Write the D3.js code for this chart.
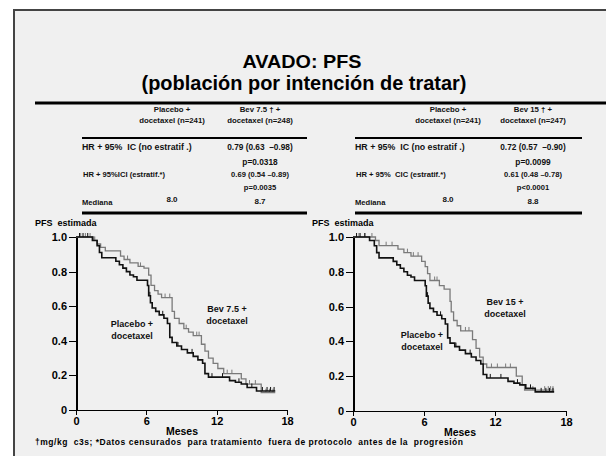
<!DOCTYPE html>
<html>
<head>
<meta charset="utf-8">
<style>
  body { margin: 0; background: #fff; }
  svg { display: block; font-family: "Liberation Sans", Arial, sans-serif; }
  svg text { white-space: pre; }
  .axis path, .axis line { fill: none; stroke: #000; shape-rendering: crispEdges; }
  .axis text { font: bold 11px "Liberation Sans", Arial, sans-serif; fill: #000; }
</style>
</head>
<body>
<script src="https://cdn.jsdelivr.net/npm/d3@7"></script>
<svg width="606" height="456"></svg>
<script>
// ---- data ----
var placeboT = [0, 1.4, 1.8, 2.0, 2.2, 3.4, 3.7, 4.0, 4.3, 4.6, 4.9, 5.2, 6.1, 6.2, 6.35, 6.5, 6.8, 7.1, 7.5, 7.8, 8.0, 8.2, 8.6, 9.0, 9.5, 10.0, 10.4, 10.8, 11.0, 11.3, 13.1, 13.6, 14.1, 14.6, 15.4, 17];
var placeboS = [1.0, 0.98, 0.95, 0.91, 0.88, 0.86, 0.84, 0.82, 0.80, 0.78, 0.77, 0.75, 0.72, 0.66, 0.62, 0.59, 0.57, 0.55, 0.53, 0.50, 0.42, 0.39, 0.37, 0.35, 0.33, 0.31, 0.29, 0.27, 0.21, 0.19, 0.17, 0.16, 0.15, 0.13, 0.11, 0.11];
var placeboCens = [0.3, 0.6, 1.0, 6.3, 7.4, 8.7, 9.9, 11.6, 12.5, 13.9, 15.0, 15.9, 16.3, 16.6, 16.9];

var bev75T = [0, 1.5, 1.8, 2.1, 2.5, 3.8, 4.1, 4.6, 5.3, 5.8, 6.2, 6.4, 6.7, 7.0, 7.3, 8.2, 8.4, 8.8, 9.2, 9.6, 10.0, 10.7, 11.0, 11.3, 11.7, 12.1, 12.6, 14.1, 14.5, 15.8, 17];
var bev75S = [1.0, 0.98, 0.96, 0.94, 0.92, 0.89, 0.87, 0.85, 0.83, 0.82, 0.78, 0.72, 0.69, 0.67, 0.65, 0.57, 0.53, 0.50, 0.47, 0.45, 0.43, 0.38, 0.34, 0.30, 0.27, 0.24, 0.21, 0.18, 0.15, 0.10, 0.10];
var bev75Cens = [0.4, 0.8, 1.2, 1.6, 4.4, 5.5, 7.6, 8.0, 9.4, 10.3, 10.5, 12.9, 13.3, 14.8, 15.3, 16.2, 16.5, 16.8];

var bev15T = [0, 1.9, 2.2, 3.8, 4.3, 4.9, 5.8, 6.1, 6.3, 6.5, 7.3, 7.7, 8.2, 8.3, 8.5, 8.8, 9.1, 10.1, 10.4, 10.7, 11.0, 11.3, 13.8, 14.3, 14.5, 17];
var bev15S = [1.0, 0.98, 0.95, 0.93, 0.91, 0.89, 0.86, 0.83, 0.79, 0.75, 0.72, 0.70, 0.63, 0.57, 0.52, 0.49, 0.46, 0.41, 0.36, 0.31, 0.27, 0.25, 0.20, 0.15, 0.12, 0.12];
var bev15Cens = [0.5, 1.0, 1.6, 2.8, 3.3, 4.6, 5.1, 5.5, 6.9, 7.1, 9.5, 9.8, 11.7, 12.2, 12.9, 13.3, 15.2, 16.2, 16.5, 16.7, 16.9];

var xTicks = [0, 6, 12, 18];
var yTicks = [0, 0.2, 0.4, 0.6, 0.8, 1.0];

var headLeft = [["Placebo +", "docetaxel (n=241)"], ["Bev 7.5 \u2020 +", "docetaxel (n=248)"]];
var headRight = [["Placebo +", "docetaxel (n=241)"], ["Bev 15 \u2020 +", "docetaxel (n=247)"]];
var rowLabelsLeft = ["HR + 95%  IC (no estratif .)", "HR + 95%ICI (estratif.*)", "Mediana"];
var rowLabelsRight = ["HR + 95%  IC (no estratif .)", "HR + 95%  CIC (estratif.*)", "Mediana"];
var valsLeft = [["0.79 (0.63  \u20130.98)", "p=0.0318"], ["0.69 (0.54 \u20130.89)", "p=0.0035"]];
var valsRight = [["0.72 (0.57  \u20130.90)", "p=0.0099"], ["0.61 (0.48 \u20130.78)", "p<0.0001"]];
var mediansLeft = ["8.0", "8.7"];
var mediansRight = ["8.0", "8.8"];

var svg = d3.select("svg");

// slide frame
svg.append("rect").attr("x", 14).attr("y", 10).attr("width", 620).attr("height", 470)
  .attr("fill", "#f0f0f0").attr("stroke", "#444").attr("stroke-width", 2);

svg.append("text").attr("x", 302).attr("y", 68).attr("text-anchor", "middle")
  .attr("font-size", 19).attr("font-weight", "bold").attr("textLength", 119)
  .attr("lengthAdjust", "spacingAndGlyphs").text("AVADO: PFS");
svg.append("text").attr("x", 304).attr("y", 90).attr("text-anchor", "middle")
  .attr("font-size", 20).attr("font-weight", "bold").attr("textLength", 325)
  .attr("lengthAdjust", "spacingAndGlyphs").text("(población por intención de tratar)");

svg.append("line").attr("x1", 35).attr("x2", 606).attr("y1", 103).attr("y2", 103)
  .attr("stroke", "#000").attr("stroke-width", 3);

function table(x0, x1, c1, c2, heads, labels, vals, meds) {
  var g = svg.append("g").attr("font-weight", "bold").attr("fill", "#111");
  [c1, c2].forEach(function(cx, i) {
    g.append("text").attr("x", cx).attr("y", 112).attr("text-anchor", "middle")
      .attr("font-size", 7.8).text(heads[i][0]);
    g.append("text").attr("x", cx).attr("y", 123).attr("text-anchor", "middle")
      .attr("font-size", 7.8).text(heads[i][1]);
  });
  g.append("line").attr("x1", x0).attr("x2", x1).attr("y1", 138).attr("y2", 138)
    .attr("stroke", "#000").attr("stroke-width", 2);
  g.append("text").attr("x", x0).attr("y", 150).attr("font-size", 8.8).text(labels[0]);
  g.append("text").attr("x", x0 + 1).attr("y", 177).attr("font-size", 7.6).text(labels[1]);
  g.append("text").attr("x", x0).attr("y", 205).attr("font-size", 7.6).text(labels[2]);
  g.append("text").attr("x", c2).attr("y", 150).attr("text-anchor", "middle").attr("font-size", 8.3).text(vals[0][0]);
  g.append("text").attr("x", c2).attr("y", 165).attr("text-anchor", "middle").attr("font-size", 8.3).text(vals[0][1]);
  g.append("text").attr("x", c2).attr("y", 177).attr("text-anchor", "middle").attr("font-size", 7.6).text(vals[1][0]);
  g.append("text").attr("x", c2).attr("y", 190).attr("text-anchor", "middle").attr("font-size", 7.6).text(vals[1][1]);
  g.append("text").attr("x", c1).attr("y", 202).attr("text-anchor", "middle").attr("font-size", 8).text(meds[0]);
  g.append("text").attr("x", c2).attr("y", 204).attr("text-anchor", "middle").attr("font-size", 8).text(meds[1]);
  g.append("line").attr("x1", x0).attr("x2", x1).attr("y1", 213).attr("y2", 213)
    .attr("stroke", "#000").attr("stroke-width", 3);
}
table(82, 307, 172, 260, headLeft, rowLabelsLeft, valsLeft, mediansLeft);
table(355, 582, 448, 533, headRight, rowLabelsRight, valsRight, mediansRight);

function zip(t, s) { return t.map(function(d, i) { return [d, s[i]]; }); }
function survAt(t, s, v) { var i = d3.bisectRight(t, v) - 1; return s[Math.max(0, i)]; }

function kmChart(xr, yr, labX, bevT, bevS, bevC, bevLab, bevPos, plaPos) {
  var x = d3.scaleLinear().domain([0, 18]).range(xr);
  var y = d3.scaleLinear().domain([0, 1]).range(yr);
  var g = svg.append("g");

  g.append("text").attr("x", labX).attr("y", 226).attr("font-size", 9)
    .attr("font-weight", "bold").text("PFS  estimada");

  g.append("g").attr("class", "axis").attr("transform", "translate(0," + yr[0] + ")")
    .call(d3.axisBottom(x).tickValues(xTicks).tickSize(5).tickSizeOuter(0).tickPadding(2))
    .select(".domain").attr("stroke-width", 1.5);
  g.append("g").attr("class", "axis").attr("transform", "translate(" + xr[0] + ",0)")
    .call(d3.axisLeft(y).tickValues(yTicks).tickSize(7).tickSizeOuter(0).tickPadding(2)
      .tickFormat(function(d) { return d === 0 ? "0" : d3.format(".1f")(d); }))
    .select(".domain").attr("stroke-width", 2);

  g.append("text").attr("x", (xr[0] + xr[1]) / 2 + 0.5).attr("y", yr[0] + 25)
    .attr("text-anchor", "middle").attr("font-size", 10.5).attr("font-weight", "bold").text("Meses");

  var line = d3.line().x(function(d) { return x(d[0]); }).y(function(d) { return y(d[1]); })
    .curve(d3.curveStepAfter);

  var series = [
    { t: bevT, s: bevS, c: bevC, col: "#7a7a7a", w: 1.3 },
    { t: placeboT, s: placeboS, c: placeboCens, col: "#111", w: 1.6 }
  ];
  series.forEach(function(ser) {
    g.append("path").datum(zip(ser.t, ser.s)).attr("d", line)
      .attr("fill", "none").attr("stroke", ser.col).attr("stroke-width", ser.w);
    g.selectAll(null).data(ser.c).enter().append("line")
      .attr("x1", function(d) { return x(d); }).attr("x2", function(d) { return x(d); })
      .attr("y1", function(d) { return y(survAt(ser.t, ser.s, d)); })
      .attr("y2", function(d) { return y(survAt(ser.t, ser.s, d)) - 4; })
      .attr("stroke", ser.col).attr("stroke-width", 1);
  });

  var lab = g.append("g").attr("font-size", 9).attr("font-weight", "bold")
    .attr("text-anchor", "middle").attr("fill", "#111");
  lab.append("text").attr("x", bevPos[0]).attr("y", bevPos[1]).text(bevLab);
  lab.append("text").attr("x", bevPos[0]).attr("y", bevPos[1] + 12).text("docetaxel");
  lab.append("text").attr("x", plaPos[0]).attr("y", plaPos[1]).text("Placebo +");
  lab.append("text").attr("x", plaPos[0]).attr("y", plaPos[1] + 12).text("docetaxel");
}

kmChart([76, 287], [410, 237], 35, bev75T, bev75S, bev75Cens, "Bev 7.5 +", [227, 312], [132, 327]);
kmChart([353, 566], [411, 237], 312, bev15T, bev15S, bev15Cens, "Bev 15 +", [505, 305], [422, 338]);

svg.append("text").attr("x", 35).attr("y", 445).attr("font-size", 8.5).attr("font-weight", "bold")
  .attr("textLength", 428).attr("lengthAdjust", "spacing")
  .text("\u2020mg/kg  c3s; *Datos censurados  para tratamiento  fuera de protocolo  antes de la  progresión");
</script>
</body>
</html>
